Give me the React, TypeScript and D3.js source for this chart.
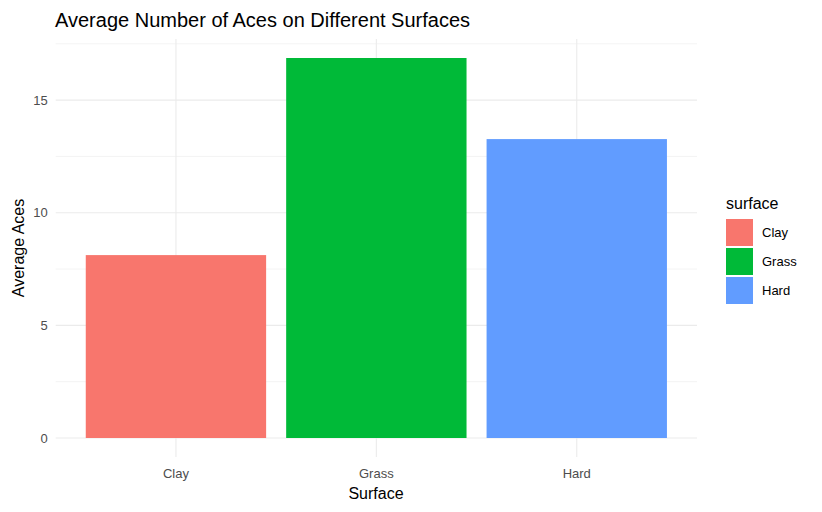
import React from "react";
import * as d3 from "d3";

const categories = ["Clay", "Grass", "Hard"];
const values = [8.12, 16.87, 13.27];
const colors = ["#F8766D", "#00BA38", "#619CFF"];
const yTicks = [0, 5, 10, 15];
const yMinor = [2.5, 7.5, 12.5, 17.5];

export default function App() {
  const W = 822, H = 512;
  const left = 55.7, right = 697, top = 39, bottom = 457;
  const x = d3.scaleLinear().domain([0.4, 3.6]).range([left, right]);
  const y = d3.scaleLinear().domain([-0.8435, 17.7135]).range([bottom, top]);
  const step = x(2) - x(1);
  const bw = step * 0.9;
  const font = "Liberation Sans, Arial, sans-serif";
  return (
    <svg width={W} height={H} style={{ position: "absolute", left: 0, top: 0, fontFamily: font }}>
      <rect width={W} height={H} fill="white" />
      {yMinor.map(t => (
        <line key={"m" + t} x1={left} x2={right} y1={y(t)} y2={y(t)} stroke="#EBEBEB" strokeWidth={0.6} />
      ))}
      {yTicks.map(t => (
        <line key={"g" + t} x1={left} x2={right} y1={y(t)} y2={y(t)} stroke="#EBEBEB" strokeWidth={1.1} />
      ))}
      {categories.map((c, i) => (
        <line key={"v" + c} x1={x(i + 1)} x2={x(i + 1)} y1={top} y2={bottom} stroke="#EBEBEB" strokeWidth={1.1} />
      ))}
      {categories.map((c, i) => (
        <rect key={c} x={x(i + 1) - bw / 2} width={bw} y={y(values[i])} height={y(0) - y(values[i])} fill={colors[i]} />
      ))}
      {yTicks.map(t => (
        <text key={"t" + t} x={left - 8} y={y(t)} dy="0.35em" textAnchor="end" fontSize={13} fill="#4D4D4D">{t}</text>
      ))}
      {categories.map((c, i) => (
        <text key={"x" + c} x={x(i + 1)} y={bottom + 21} textAnchor="middle" fontSize={13} fill="#4D4D4D">{c}</text>
      ))}
      <text x={376} y={499} textAnchor="middle" fontSize={16} fill="black">Surface</text>
      <text transform={`translate(24,${(top + bottom) / 2}) rotate(-90)`} textAnchor="middle" fontSize={16} fill="black">Average Aces</text>
      <text x={55} y={27} fontSize={20} fill="black">Average Number of Aces on Different Surfaces</text>
      <text x={726} y={209} fontSize={16} fill="black">surface</text>
      {categories.map((c, i) => (
        <g key={"l" + c}>
          <rect x={726} y={219 + i * 29} width={27} height={27} fill={colors[i]} />
          <text x={762} y={219 + i * 29 + 13.5} dy="0.35em" fontSize={13} fill="black">{c}</text>
        </g>
      ))}
    </svg>
  );
}
